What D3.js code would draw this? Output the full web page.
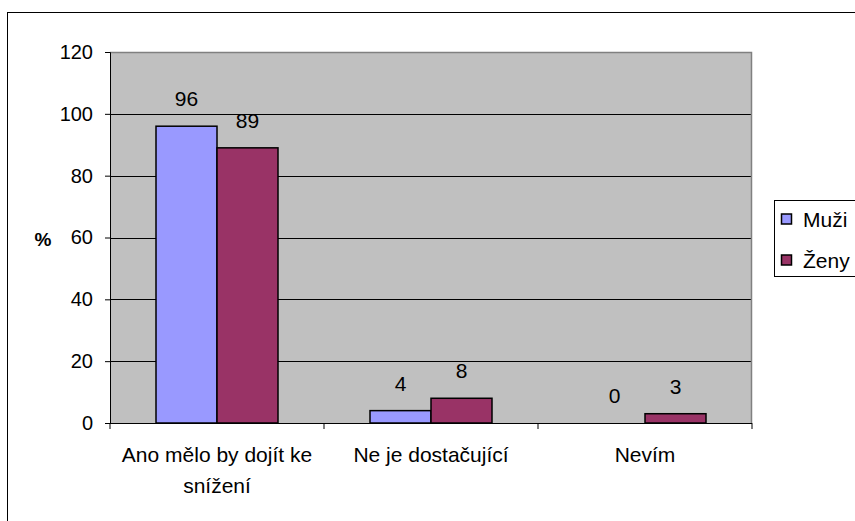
<!DOCTYPE html>
<html><head><meta charset="utf-8">
<script src="https://cdn.jsdelivr.net/npm/d3@7"></script>
<style>body{margin:0;background:#fff}svg text{font-family:"Liberation Sans",Arial,sans-serif}</style>
</head><body><svg id="c" width="855" height="521"></svg>
<script>
const categories = [["Ano mělo by dojít ke","snížení"],["Ne je dostačující"],["Nevím"]];
const seriesNames = ["Muži","Ženy"];
const muzi = [96,4,0];
const zeny = [89,8,3];
const yTicks = [0,20,40,60,80,100,120];
const colors = ["#9999FF","#993366"];

const svg = d3.select("#c");
const L=110,R=752,T=52,B=423;
svg.append("rect").attr("x",7.5).attr("y",12.5).attr("width",860).attr("height",520).attr("fill","none").attr("stroke","#000");
svg.append("rect").attr("x",L).attr("y",T).attr("width",R-L).attr("height",B-T).attr("fill","#C0C0C0");
const y = d3.scaleLinear().domain([0,120]).range([B,T]);
const x0 = d3.scaleBand().domain(d3.range(categories.length)).range([L,R]).paddingInner(0).paddingOuter(0);
const x1 = d3.scaleBand().domain([0,1]).range([46, x0.bandwidth()-46]);
svg.append("g").selectAll("line").data(yTicks.filter(d=>d>0)).join("line")
 .attr("x1",L).attr("x2",R).attr("y1",d=>Math.round(y(d))+0.5).attr("y2",d=>Math.round(y(d))+0.5).attr("stroke","#000");
svg.append("path").attr("d",`M${L},${T+0.5}H${R-0.5}V${B}`).attr("fill","none").attr("stroke","#808080").attr("stroke-width",1.5);
const series=[muzi,zeny];
const g = svg.append("g");
series.forEach((s,si)=>{
  g.selectAll(null).data(s).join("rect")
   .attr("x",(d,i)=>x0(i)+x1(si)).attr("width",x1.bandwidth())
   .attr("y",d=>y(d)).attr("height",d=>B-y(d))
   .attr("fill",colors[si]).attr("stroke",d=>d>0?"#000":"none").attr("stroke-width",1.5);
  g.selectAll(null).data(s).join("text")
   .attr("x",(d,i)=>x0(i)+x1(si)+x1.bandwidth()/2).attr("y",d=>y(d)-20)
   .attr("text-anchor","middle").attr("font-size",21).attr("fill","#000").text(d=>d);
});
const ya = svg.append("g").attr("transform",`translate(${L},0)`).call(d3.axisLeft(y).tickValues(yTicks).tickSize(5).tickPadding(12));
ya.select(".domain").attr("stroke","#000");
ya.selectAll("text").attr("font-size",20).attr("fill","#000").attr("font-family","Liberation Sans, Arial, sans-serif");
const xa = svg.append("g").attr("transform",`translate(0,${B})`);
xa.append("line").attr("x1",L).attr("x2",R).attr("y1",0.5).attr("y2",0.5).attr("stroke","#000");
xa.selectAll(".t").data(d3.range(categories.length+1)).join("line")
 .attr("x1",i=>i<categories.length?x0(i):R).attr("x2",i=>i<categories.length?x0(i):R).attr("y1",0).attr("y2",6).attr("stroke","#000");
categories.forEach((lines,i)=>{
  const t=svg.append("text").attr("text-anchor","middle").attr("font-size",21).attr("fill","#000");
  lines.forEach((ln,j)=>t.append("tspan").attr("x",x0(i)+x0.bandwidth()/2).attr("y",462+j*31).text(ln));
});
svg.append("text").attr("x",43).attr("y",246).attr("text-anchor","middle").attr("font-size",19).attr("font-weight","bold").text("%");
const lg = svg.append("g");
lg.append("rect").attr("x",774.5).attr("y",200.5).attr("width",90).attr("height",76).attr("fill","#fff").attr("stroke","#000");
seriesNames.forEach((n,i)=>{
  const cy = 219+i*41;
  lg.append("rect").attr("x",781.5).attr("y",cy-5).attr("width",10).attr("height",10).attr("fill",colors[i]).attr("stroke","#000").attr("stroke-width",1.5);
  lg.append("text").attr("x",803).attr("y",cy+8).attr("font-size",21).text(n);
});
</script></body></html>
